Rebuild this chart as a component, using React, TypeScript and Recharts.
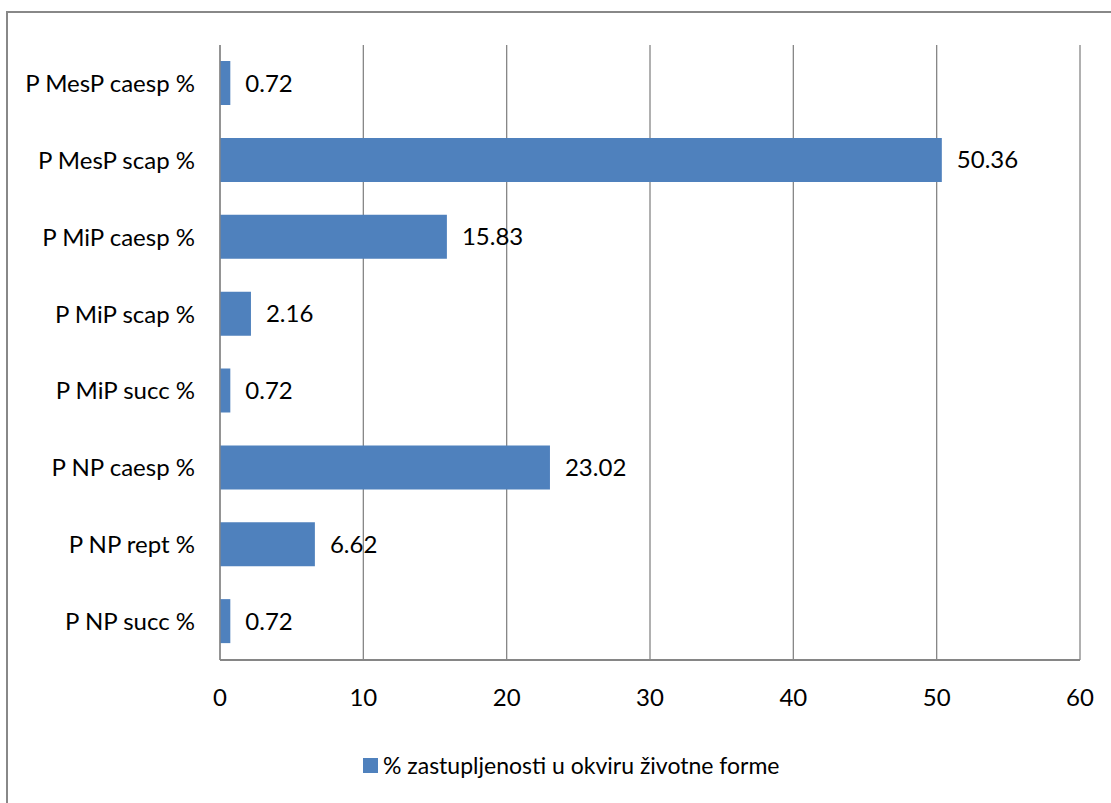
import React from 'react';
import { BarChart, Bar, XAxis, YAxis, CartesianGrid, LabelList } from 'recharts';

const categories = ['P MesP caesp %', 'P MesP scap %', 'P MiP caesp %', 'P MiP scap %', 'P MiP succ %', 'P NP caesp %', 'P NP rept %', 'P NP succ %'];
const values = [0.72, 50.36, 15.83, 2.16, 0.72, 23.02, 6.62, 0.72];
const xTicks = [0, 10, 20, 30, 40, 50, 60];
const seriesName = '% zastupljenosti u okviru životne forme';

const data = categories.map((c, i) => ({ name: c, value: values[i] }));

const FONT = 'Lato, "Open Sans", sans-serif';
const GRID = '#868686';
const BLUE = '#4F81BD';

export default function App() {
  return (
    <div style={{ position: 'absolute', left: 0, top: 0, width: 1111, height: 803, background: '#fff', overflow: 'hidden' }}>
      <div style={{ position: 'absolute', left: 6, top: 11, width: 1200, height: 900, border: '2px solid #888', boxSizing: 'border-box' }} />
      <BarChart
        width={1111}
        height={803}
        data={data}
        layout="vertical"
        margin={{ top: 45, right: 31, bottom: 113, left: 0 }}
        barSize={44}
        style={{ position: 'absolute', left: 0, top: 0 }}
      >
        <CartesianGrid horizontal={false} vertical={true} stroke={GRID} strokeWidth={1.3} />
        <XAxis
          type="number"
          domain={[0, 60]}
          ticks={xTicks}
          axisLine={{ stroke: GRID, strokeWidth: 2 }}
          tickLine={false}
          tickSize={0}
          tickMargin={29}
          tick={{ fill: '#000', fontSize: 24, fontFamily: FONT }}
          interval={0}
        />
        <YAxis
          type="category"
          dataKey="name"
          width={220}
          axisLine={{ stroke: GRID, strokeWidth: 1.3 }}
          tickLine={false}
          tickSize={0}
          tickMargin={25}
          tick={{ fill: '#000', fontSize: 24, fontFamily: FONT }}
          interval={0}
        />
        <Bar dataKey="value" name={seriesName} fill={BLUE} isAnimationActive={false}>
          <LabelList dataKey="value" position="right" offset={15} fill="#000" fontSize={24} fontFamily={FONT} formatter={(v: number) => v.toFixed(2)} />
        </Bar>
      </BarChart>
      <div style={{ position: 'absolute', top: 751, left: 363, display: 'flex', alignItems: 'center', fontFamily: FONT, fontSize: 23, color: '#000', lineHeight: '28px' }}>
        <span style={{ display: 'inline-block', width: 15, height: 15, background: BLUE, marginRight: 5 }} />
        <span>{seriesName}</span>
      </div>
    </div>
  );
}
